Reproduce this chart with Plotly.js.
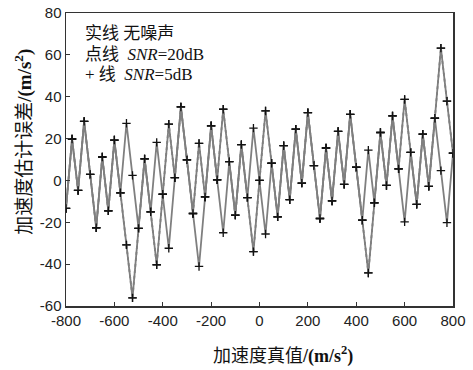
<!DOCTYPE html>
<html><head><meta charset="utf-8">
<script src="https://cdn.plot.ly/plotly-3.0.1.min.js"></script>
<style>html,body{margin:0;padding:0;background:#fff;}#chart{width:473px;height:370px;}</style>
</head><body><div id="chart"></div>
<script>
// True acceleration (m/s^2)
const trueAccel = [-800,-775,-750,-725,-700,-675,-650,-625,-600,-575,-550,-525,-500,-475,-450,-425,-400,-375,-350,-325,-300,-275,-250,-225,-200,-175,-150,-125,-100,-75,-50,-25,0,25,50,75,100,125,150,175,200,225,250,275,300,325,350,375,400,425,450,475,500,525,550,575,600,625,650,675,700,725,750,775,800];
// Estimation error, no noise (solid line)
const errNoNoise = [-13.4,19.8,-4.8,28.2,2.9,-22.6,11.2,-14.5,19.3,-5.9,-30.8,-56.1,-22.9,10.3,-15.0,-40.3,-6.6,26.9,1.3,35.1,9.8,-15.8,17.7,-7.9,26.1,0.3,34.0,9.0,-16.6,17.1,-8.2,-34.0,0.0,33.2,8.2,-17.4,16.6,-9.2,24.5,-1.3,32.4,7.1,-18.2,15.5,-9.8,23.4,-1.9,31.6,6.3,-19.0,-44.2,-10.7,22.9,-2.4,30.8,5.5,38.7,13.4,-11.4,22.1,-2.8,29.7,63.2,37.9,13.0];
// Estimation error, SNR = 20 dB (dotted line)
const errSnr20 = [-13.4,19.8,-4.8,28.2,2.9,-22.6,11.2,-14.5,19.3,-5.9,-30.8,-56.1,-22.9,10.3,-15.0,-40.3,-6.6,26.9,1.3,35.1,9.8,-15.8,17.7,-7.9,26.1,0.3,34.0,9.0,-16.6,17.1,-8.2,-34.0,0.0,33.2,8.2,-17.4,16.6,-9.2,24.5,-1.3,32.4,7.1,-18.2,15.5,-9.8,23.4,-1.9,31.6,6.3,-19.0,-44.2,-10.7,22.9,-2.4,30.8,5.5,38.7,13.4,-11.4,22.1,-2.8,29.7,63.2,37.9,13.0];
// Estimation error, SNR = 5 dB (+ line)
const errSnr5 = [-13.4,19.8,-4.8,28.2,2.9,-22.6,11.2,-14.5,19.3,-5.9,27.3,2.4,-22.9,10.3,-15.0,18.2,-6.6,-32.4,1.3,35.1,9.8,-15.8,-41.1,-7.9,26.1,0.3,-25.0,9.0,-16.6,17.1,-8.2,25.0,0.0,-25.6,8.2,-17.4,16.6,-9.2,24.5,-1.3,32.4,7.1,-18.2,15.5,-9.8,23.4,-1.9,31.6,6.3,-19.0,14.5,-10.7,22.9,-2.4,30.8,5.5,-19.8,13.4,-11.4,22.1,-2.8,29.7,4.7,-20.2,13.0];
const xTicks = [-800,-600,-400,-200,0,200,400,600,800];
const yTicks = [-60,-40,-20,0,20,40,60,80];
const legendLines = ['实线 无噪声', '点线\u00a0\u00a0<i>SNR</i>=20dB', '+\u00a0线\u00a0\u00a0<i>SNR</i>=5dB'];
const xTitle = '加速度真值<b>/(m/s<sup>2</sup>)</b>';
const yTitle = '加速度估计误差<b>/(m/s<sup>2</sup>)</b>';

const lineCol = '#7f7f7f';
const serif = 'Liberation Serif, Noto Sans CJK SC, serif';
const mk = {symbol:'cross-thin', size:6, line:{width:1.3, color:'#111'}, color:'#111'};
const traces = [
  {x:trueAccel, y:errSnr5, mode:'lines+markers', line:{color:lineCol, width:1.8}, marker:mk, name:'SNR=5dB'},
  {x:trueAccel, y:errSnr20, mode:'lines+markers', line:{color:lineCol, width:1.8, dash:'dot'}, marker:mk, name:'SNR=20dB'},
  {x:trueAccel, y:errNoNoise, mode:'lines+markers', line:{color:lineCol, width:1.8}, marker:mk, name:'无噪声'}
];
const legY = [0.93, 0.858, 0.79];
const annotations = legendLines.map((t,i)=>({
  text:t, xref:'paper', yref:'paper', x:0.045, y:legY[i], xanchor:'left', yanchor:'middle',
  showarrow:false, font:{family:serif, size:17, color:'#111'}
}));
annotations.push({text:xTitle, xref:'paper', yref:'paper', x:0.561, y:-0.167, xanchor:'center', yanchor:'middle',
  showarrow:false, font:{family:serif, size:18, color:'#111'}});
annotations.push({text:yTitle, xref:'paper', yref:'paper', x:-0.11, y:0.562, xanchor:'center', yanchor:'middle',
  textangle:-90, showarrow:false, font:{family:serif, size:19, color:'#111'}});
const axisBase = {showgrid:false, zeroline:false, ticks:'inside', ticklen:4, tickwidth:1.2, tickcolor:'#333',
  showline:true, mirror:true, linecolor:'#333', linewidth:1.5,
  tickfont:{family:'Liberation Sans, Arial, sans-serif', size:15, color:'#222'}};
const layout = {
  width:473, height:370, margin:{l:65.5, r:20, t:12.5, b:64},
  paper_bgcolor:'#fff', plot_bgcolor:'#fff', showlegend:false,
  xaxis:Object.assign({}, axisBase, {range:[-800,800], tickvals:xTicks, ticktext:xTicks.map(String)}),
  yaxis:Object.assign({}, axisBase, {range:[-60,80], tickvals:yTicks, ticktext:yTicks.map(String)}),
  annotations:annotations
};
Plotly.newPlot('chart', traces, layout, {displayModeBar:false, staticPlot:true});
</script></body></html>
